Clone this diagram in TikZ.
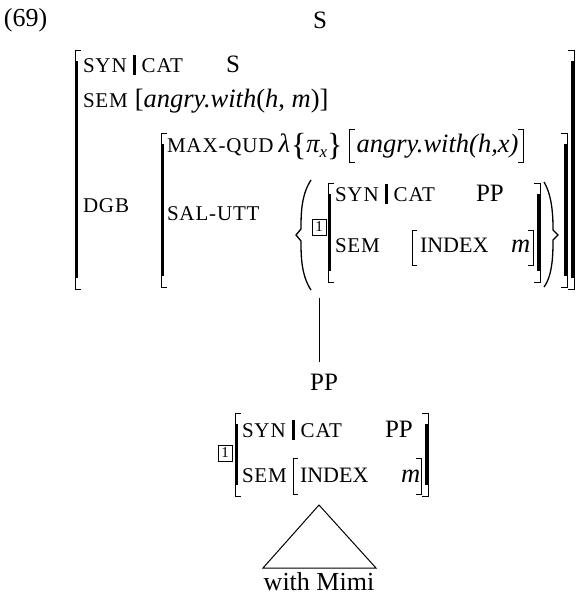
\documentclass[tikz,border=0pt]{standalone}
\usepackage{fontspec}
\setmainfont{Liberation Serif}
\newfontfamily\scfont[LetterSpace=4]{Liberation Serif}
\usetikzlibrary{calc}
\newcommand{\avmleft}[3]{\draw[thinbr] (#1+6,#2) -- (#1,#2) -- (#1,#3) -- (#1+6,#3); \fill (#1-0.4,#2+11) rectangle (#1+2.8,#3-11);}
\newcommand{\avmright}[3]{\draw[thinbr] (#1-6,#2) -- (#1,#2) -- (#1,#3) -- (#1-6,#3); \fill (#1+0.4,#2+11) rectangle (#1-2.8,#3-11);}
\newcommand{\thinleft}[3]{\draw[thinbr] (#1+5,#2) -- (#1,#2) -- (#1,#3) -- (#1+5,#3);}
\newcommand{\thinright}[3]{\draw[thinbr] (#1-5,#2) -- (#1,#2) -- (#1,#3) -- (#1-5,#3);}
\begin{document}
\begin{tikzpicture}[x=1pt,y=-1pt,
 every node/.style={inner sep=0pt, outer sep=0pt, anchor=base west},
 sc/.style={font=\fontsize{21}{24}\selectfont\scfont},
 rm/.style={font=\fontsize{25}{30}\selectfont},
 itx/.style={font=\fontsize{26.5}{30}\selectfont\itshape},
 semtxt/.style={font=\fontsize{26.5}{30}\selectfont},
 idx/.style={font=\fontsize{22}{26}\selectfont},
 brc/.style={font=\fontsize{32}{34}\selectfont},
 numbox/.style={draw, line width=0.7pt, font=\fontsize{15}{16}\selectfont, inner sep=1pt, anchor=center, minimum width=14pt, minimum height=16pt},
 bar/.style={line width=2.8pt},
 thinbr/.style={line width=0.9pt},
 treeline/.style={line width=1pt},
]
\useasboundingbox (0,0) rectangle (576,597);

% example number and root
\node[font=\fontsize{26}{30}\selectfont] (exno) at (4,27) {(69)};
\node[rm, anchor=base] (root) at (320,28) {S};

% outer AVM brackets
\avmleft{75}{50}{289}
\avmright{574}{50}{289}

% row 1
\node[sc] (syn1) at (83,72) {SYN};
\draw[bar] ($(syn1.base east)+(8,-17)$) -- ($(syn1.base east)+(8,3)$);
\node[sc] (cat1) at ($(syn1.base east)+(15,0)$) {CAT};
\node[rm] (s1) at (226,72) {S};

% row 2
\node[sc] (sem1) at (83,107) {SEM};
\node[semtxt] (sem1v) at ($(sem1.base east)+(7,0)$) {[\textit{angry.with}(\textit{h}, \textit{m})]};

% DGB
\node[sc] (dgb) at (83,212) {DGB};
\avmleft{161}{133}{287}
\avmright{567}{133}{287}

% MAX-QUD row
\node[sc] (maxqud) at (167,152) {MAX-QUD};
\node[itx] (lam) at ($(maxqud.base east)+(5,0)$) {λ};
\node[brc] (lbrace) at ($(lam.base east)+(1,3)$) {\{};
\node[itx] (pix) at ($(lbrace.base east)+(0,-3)$) {π\raisebox{-5pt}{\fontsize{17}{17}\selectfont\itshape x}};
\node[brc] (rbrace) at ($(pix.base east)+(0,3)$) {\}};
\coordinate (lbk) at ($(rbrace.base east)+(7,-3)$);
\draw[thinbr] ($(lbk)+(5,-23)$) -- ($(lbk)+(0,-23)$) -- ($(lbk)+(0,10)$) -- ($(lbk)+(5,10)$);
\node[itx] (angx) at ($(lbk)+(7,0)$) {angry.with(h,x)};
\coordinate (rbk) at ($(angx.base east)+(5,0)$);
\draw[thinbr] ($(rbk)+(-5,-23)$) -- ($(rbk)+(0,-23)$) -- ($(rbk)+(0,10)$) -- ($(rbk)+(-5,10)$);

% SAL-UTT row
\node[sc] (salutt) at (167,220) {SAL-UTT};
\draw[line width=1.3pt] (311,180) .. controls (301,195) and (301,215) .. (301,229) -- (296,235) -- (301,241) .. controls (301,255) and (301,275) .. (311,290);
\draw[line width=1.3pt] (544,182) .. controls (553,197) and (553,220) .. (553,230) -- (558,235) -- (553,240) .. controls (553,252) and (553,275) .. (544,287);
\node[numbox] (tag1a) at (319,227) {1};
\avmleft{328}{183}{282}
\avmright{540}{183}{282}
\node[sc] (syn2) at (335,201) {SYN};
\draw[bar] ($(syn2.base east)+(8,-17)$) -- ($(syn2.base east)+(8,3)$);
\node[sc] (cat2) at ($(syn2.base east)+(15,0)$) {CAT};
\node[rm] (pp2) at (476,201) {PP};
\node[sc] (sem2) at (335,252) {SEM};
\thinleft{412}{230}{265}
\node[idx] (index2) at (420,252) {INDEX};
\node[itx] (m2) at (511,252) {m};
\thinright{533}{230}{265}

% tree line
\coordinate (lt) at (319,298);
\coordinate (lb) at (319,362);
\draw[treeline] (lt) -- (lb);
\node[rm, anchor=base] (pp) at (324,390) {PP};

% bottom AVM
\node[numbox] (tag1b) at (225,453) {1};
\avmleft{235}{413}{496}
\avmright{428}{413}{496}
\node[sc] (syn3) at (242,437) {SYN};
\draw[bar] ($(syn3.base east)+(8,-17)$) -- ($(syn3.base east)+(8,3)$);
\node[sc] (cat3) at ($(syn3.base east)+(15,0)$) {CAT};
\node[rm] (pp3) at (385,437) {PP};
\node[sc] (sem3) at (242,482) {SEM};
\thinleft{293}{458}{494}
\node[idx] (index3) at (300,482) {INDEX};
\node[itx] (m3) at (401,482) {m};
\thinright{421}{458}{494}

% triangle
\coordinate (apex) at (319,505);
\coordinate (tl) at (263,568);
\coordinate (tr) at (376,568);
\draw[treeline] (apex) -- (tl) -- (tr) -- cycle;
\node[font=\fontsize{26}{30}\selectfont, anchor=base] (words) at (319,590) {with Mimi};
\end{tikzpicture}
\end{document}
